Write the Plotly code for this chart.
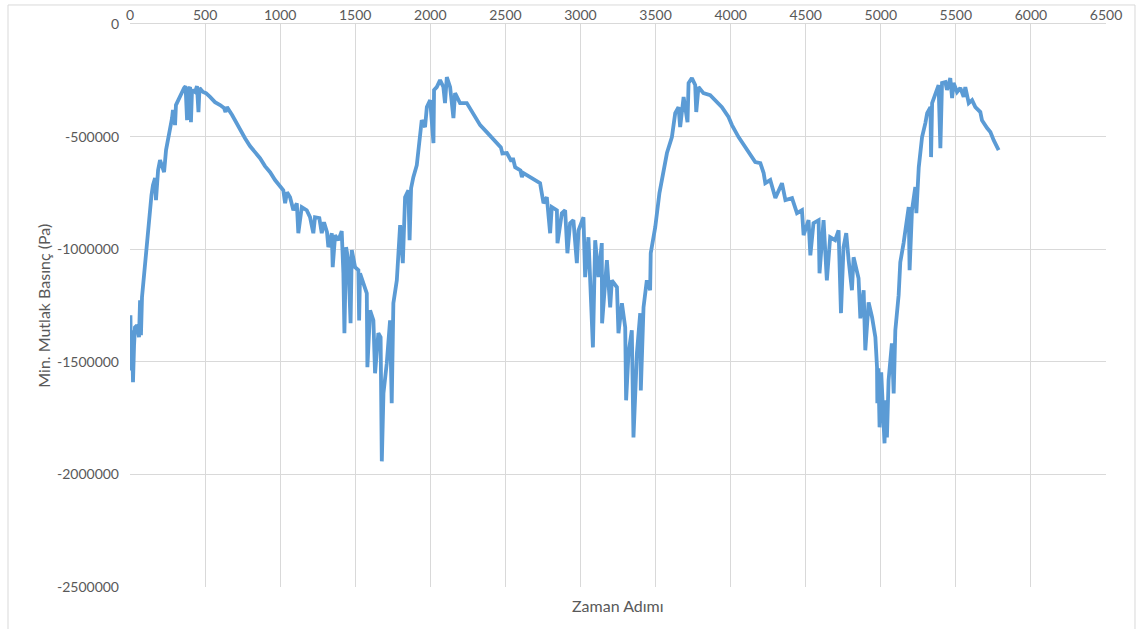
import plotly.graph_objects as go

# Zaman adımı (time step) and minimum absolute pressure in Pa
steps = [
    3, 7, 13, 20, 27, 33, 47, 60, 67, 73, 80, 93, 107, 120, 133, 143, 153, 167, 173, 187,
    200, 213, 227, 240, 253, 266, 280, 286, 300, 306, 320, 333, 346, 360, 370, 380, 386, 400, 406, 413,
    433, 446, 456, 463, 486, 506, 533, 566, 600, 626, 636, 646, 680, 706, 733, 766, 799, 833, 866, 899,
    933, 966, 999, 1021, 1033, 1046, 1066, 1088, 1111, 1121, 1144, 1177, 1199, 1221, 1232, 1261, 1277, 1292, 1312, 1321,
    1344, 1350, 1366, 1388, 1410, 1421, 1428, 1439, 1454, 1469, 1477, 1499, 1521, 1526, 1532, 1554, 1577, 1581, 1599, 1621,
    1632, 1654, 1669, 1677, 1688, 1710, 1732, 1743, 1754, 1777, 1787, 1799, 1817, 1832, 1854, 1862, 1872, 1887, 1910, 1921,
    1943, 1965, 1977, 1999, 2021, 2025, 2043, 2065, 2087, 2098, 2110, 2132, 2154, 2165, 2198, 2243, 2287, 2332, 2376, 2443,
    2470, 2480, 2510, 2540, 2550, 2565, 2600, 2610, 2620, 2676, 2731, 2754, 2776, 2798, 2809, 2843, 2847, 2876, 2898, 2913,
    2931, 2953, 2976, 2987, 3020, 3031,
    3053, 3083, 3098, 3120, 3142, 3144, 3176, 3198, 3209, 3243, 3253, 3276, 3298, 3304, 3320, 3342, 3353, 3376, 3398, 3402,
    3420, 3442, 3464, 3468, 3498, 3526, 3542, 3576, 3609, 3631, 3653, 3664, 3687, 3713, 3720, 3742, 3764, 3771, 3786, 3819,
    3864, 3909, 3942, 3986, 4009, 4053, 4109, 4164, 4198, 4220, 4231, 4264, 4298, 4342, 4365, 4409, 4442, 4475, 4486, 4519,
    4531, 4552, 4586, 4592, 4619, 4641, 4663, 4696, 4719, 4735, 4752, 4770, 4786, 4808, 4819, 4852, 4864, 4886, 4897, 4919,
    4942, 4964, 4975, 4977, 4984, 4992, 5003, 5025, 5033, 5041, 5052, 5074, 5086, 5097, 5119, 5130, 5152, 5163, 5186, 5192,
    5208, 5230, 5237, 5253, 5275, 5297, 5309, 5331, 5335, 5342, 5363, 5385, 5397, 5408, 5430, 5441, 5463, 5475, 5485, 5508,
    5530, 5552, 5563, 5586, 5608, 5630, 5663, 5674, 5708, 5730, 5752, 5774, 5785,
]

pressure = [
    -1293000, -1538000, -1360000, -1591000, -1427000, -1347000, -1338000, -1391000, -1227000, -1382000,
    -1213000, -1116000, -1004000, -938000, -827000, -760000, -716000, -684000, -782000, -649000,
    -604000, -627000, -658000, -560000, -516000, -471000, -418000, -382000, -449000, -360000,
    -338000, -316000, -302000, -284000, -276000, -427000, -293000, -280000, -436000, -293000,
    -302000, -276000, -391000, -284000, -302000, -307000, -324000, -347000, -360000, -373000,
    -391000, -369000, -404000, -436000, -471000, -507000, -542000, -569000, -596000, -631000,
    -658000, -693000, -720000, -738000, -796000, -747000, -769000, -827000, -796000, -929000,
    -813000, -827000, -858000, -929000, -858000, -862000, -929000, -880000, -924000, -991000,
    -929000, -1080000, -938000, -960000, -920000, -1107000, -1373000, -991000, -1049000, -1329000,
    -1004000, -1080000, -1093000, -1316000, -1107000, -1151000, -1196000, -1524000, -1271000, -1316000,
    -1551000, -1373000, -1391000, -1942000, -1640000, -1507000, -1316000, -1684000, -1240000, -1138000,
    -1018000, -893000, -1062000, -769000, -738000, -960000, -729000, -680000, -627000, -560000,
    -427000, -458000, -369000, -338000, -529000, -293000, -280000, -249000, -280000, -351000,
    -236000, -280000, -418000, -307000, -351000, -351000, -396000, -449000, -480000, -529000,
    -548000, -575000, -573000, -610000, -595000, -636000, -650000, -680000, -662000, -684000,
    -707000, -796000, -769000, -929000, -813000, -827000, -973000, -840000, -827000, -1018000,
    -884000, -871000, -1062000, -916000, -858000, -1124000,
    -947000, -1436000, -960000, -1124000, -973000, -1329000, -1049000, -1258000, -1138000, -1169000,
    -1373000, -1240000, -1347000, -1671000, -1462000, -1360000, -1836000, -1462000, -1284000, -1627000,
    -1258000, -1138000, -1182000, -1018000, -902000, -751000, -693000, -573000, -502000, -396000,
    -369000, -458000, -324000, -436000, -262000, -240000, -271000, -391000, -280000, -307000,
    -316000, -347000, -369000, -413000, -449000, -502000, -560000, -613000, -618000, -662000,
    -707000, -693000, -773000, -707000, -782000, -773000, -840000, -827000, -938000, -871000,
    -1027000, -884000, -871000, -1107000, -871000, -1138000, -947000, -960000, -916000, -1284000,
    -991000, -929000, -1049000, -1182000, -1036000, -1129000, -1307000, -1182000, -1449000, -1236000,
    -1302000, -1391000, -1524000, -1684000, -1529000, -1791000, -1547000, -1862000, -1671000, -1836000,
    -1582000, -1418000, -1640000, -1360000, -1204000, -1058000, -973000, -929000, -813000, -1093000,
    -827000, -724000, -840000, -636000, -502000, -440000, -396000, -369000, -591000, -351000,
    -307000, -271000, -551000, -262000, -258000, -293000, -240000, -329000, -262000, -302000,
    -284000, -324000, -280000, -351000, -338000, -369000, -391000, -427000, -462000, -480000,
    -516000, -547000, -560000,
]

x_ticks = list(range(0, 6501, 500))
y_ticks = [0, -500000, -1000000, -1500000, -2000000, -2500000]
y_tick_labels = ["0", "-500000", "-1000000", "-1500000", "-2000000", "-2500000"]

x_title = "Zaman Adımı"
y_title = "Min. Mutlak Basınç (Pa)"

FONT = "Lato, 'Open Sans', sans-serif"
TEXT_GREY = "#595959"
GRID = "#d9d9d9"

fig = go.Figure(
    go.Scatter(
        x=steps,
        y=pressure,
        mode="lines",
        line=dict(color="#5b9bd5", width=3.8),
        hoverinfo="skip",
    )
)

fig.update_layout(
    width=1141,
    height=629,
    margin=dict(l=130, r=35, t=24, b=42),
    paper_bgcolor="white",
    plot_bgcolor="white",
    showlegend=False,
    font=dict(family=FONT, size=14, color=TEXT_GREY),
)

fig.update_xaxes(
    side="top",
    range=[0, 6500],
    tickvals=x_ticks,
    tickformat="d",
    showgrid=True,
    gridcolor=GRID,
    gridwidth=1,
    zeroline=False,
    showline=True,
    linecolor=GRID,
    linewidth=1,
    ticks="",
    automargin=False,
    ticklabelstandoff=-3,
    tickfont=dict(family=FONT, size=14, color=TEXT_GREY),
)

fig.update_yaxes(
    range=[-2500000, 0],
    tickvals=y_ticks,
    ticktext=y_tick_labels,
    showgrid=True,
    gridcolor=GRID,
    gridwidth=1,
    zeroline=False,
    showline=False,
    ticks="",
    automargin=False,
    ticklabelstandoff=10,
    tickfont=dict(family=FONT, size=14, color=TEXT_GREY),
)

# axis titles
fig.add_annotation(
    text=x_title, xref="paper", yref="paper", x=0.5, y=-0.012,
    xanchor="center", yanchor="top", showarrow=False,
    font=dict(family=FONT, size=16, color=TEXT_GREY),
)
fig.add_annotation(
    text=y_title, xref="paper", yref="paper", x=-0.089, y=0.5,
    xanchor="center", yanchor="middle", textangle=-90, showarrow=False,
    font=dict(family=FONT, size=16, color=TEXT_GREY),
)

# outer chart frame
fig.add_shape(
    type="rect", xref="paper", yref="paper",
    x0=-0.125, x1=1.0297, y0=-0.2, y1=1.0338,
    line=dict(color=GRID, width=1), fillcolor="rgba(0,0,0,0)", layer="below",
)

fig.write_html("out.html")
